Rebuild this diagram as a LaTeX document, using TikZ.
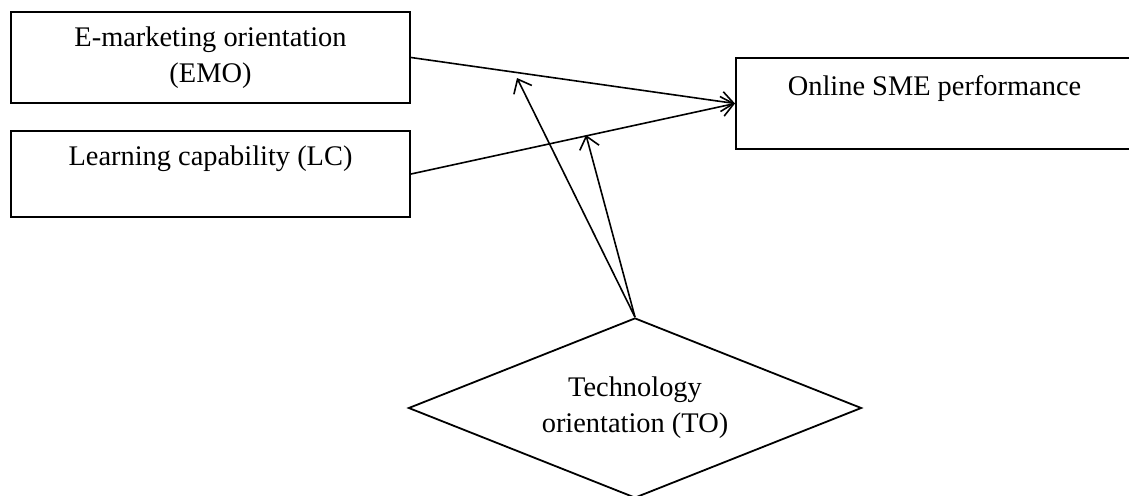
\documentclass[tikz,border=0pt]{standalone}
\usepackage{fontspec}
\setmainfont{Liberation Serif}
\usetikzlibrary{shapes.geometric,arrows.meta}
\tikzset{
  box/.style={draw, line width=2pt, rectangle, inner sep=0pt, align=center,
    font=\fontsize{28.4}{36}\selectfont},
  moder/.style={draw, line width=1.8pt, diamond, aspect=2.5, inner sep=0pt, align=center,
    font=\fontsize{28.4}{36}\selectfont},
  link/.style={line width=1.6pt, -{Straight Barb[length=12pt,width=20pt,line width=1.6pt]}}
}
\begin{document}
\begin{tikzpicture}[x=1pt,y=-1pt]
\clip (0,0) rectangle (1129,495);
\node[box, minimum width=399pt, minimum height=91pt] (emo) at (210.5,57.5)
  {E-marketing orientation\\(EMO)};
\node[box, minimum width=399pt, minimum height=86pt] (lc) at (210.5,174)
  {Learning capability (LC)\\\mbox{}};
\node[box, minimum width=397pt, minimum height=91pt] (out) at (934.5,103.5)
  {Online SME performance\\\mbox{}};
\node[moder, minimum width=453pt, minimum height=180pt] (to) at (635,408)
  {Technology\\orientation (TO)};
\coordinate (m1) at (517,78);
\coordinate (m2) at (586,135);
\draw[link] (emo.east) -- (out.west);
\draw[link] (lc.east) -- (out.west);
\draw[link] (to.north) -- (m1);
\draw[link] (to.north) -- (m2);
\end{tikzpicture}
\end{document}
